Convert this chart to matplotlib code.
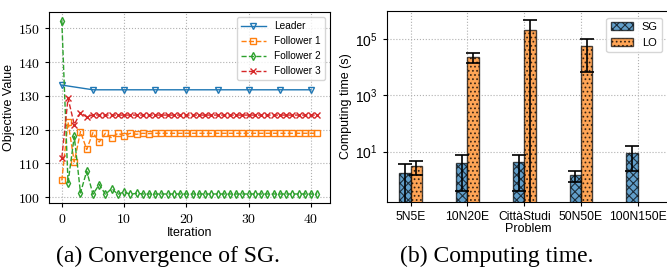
import numpy as np
import matplotlib
matplotlib.use('Agg')
import matplotlib.pyplot as plt
from matplotlib.ticker import FuncFormatter, FixedLocator, NullLocator

plt.rcParams['font.family'] = 'Liberation Sans'
plt.rcParams['mathtext.fontset'] = 'cm'
plt.rcParams['hatch.linewidth'] = 0.8

# (a) convergence of SG
leader_it = [0, 5, 10, 15, 20, 25, 30, 35, 40]
leader = [133.2, 131.8, 131.8, 131.8, 131.8, 131.8, 131.8, 131.8, 131.8]

follower_it = list(range(42))
follower1 = [104.9, 122.2, 110.4, 119.4, 114.1, 119.1, 116.3, 118.9, 117.5, 118.9,
             118.2, 118.9, 118.6, 118.9, 118.8, 118.9, 118.9, 118.9, 118.9, 118.9,
             118.9, 118.9, 118.9, 118.9, 118.9, 118.9, 118.9, 118.9, 118.9, 118.9,
             118.9, 118.9, 118.9, 118.9, 118.9, 118.9, 118.9, 118.9, 118.9, 118.9,
             118.9, 118.9]
follower2 = [152.3, 104.2, 118.0, 101.2, 107.7, 100.8, 103.7, 100.8, 102.5, 100.8,
             101.5, 100.8, 101.1, 100.9, 100.9, 100.9, 100.9, 100.9, 100.9, 100.9,
             100.9, 100.9, 100.9, 100.9, 100.9, 100.9, 100.9, 100.9, 100.9, 100.9,
             100.9, 100.9, 100.9, 100.9, 100.9, 100.9, 100.9, 100.9, 100.9, 100.9,
             100.9, 100.9]
follower3 = [111.6, 129.3, 121.5, 125.0, 123.7, 124.4, 124.3, 124.3, 124.3, 124.3,
             124.3, 124.3, 124.3, 124.3, 124.3, 124.3, 124.3, 124.3, 124.3, 124.3,
             124.3, 124.3, 124.3, 124.3, 124.3, 124.3, 124.3, 124.3, 124.3, 124.3,
             124.3, 124.3, 124.3, 124.3, 124.3, 124.3, 124.3, 124.3, 124.3, 124.3,
             124.3, 124.3]

# (b) computing time
problems = ['5N5E', '10N20E', 'CittàStudi', '50N50E', '100N150E']
sg_mean = [1.7, 3.9, 4.1, 1.45, 9.0]
sg_std = [1.8, 3.5, 3.7, 0.65, 7.0]
lo_mean = [3.1, 2.3e4, 2.1e5, 5.6e4, np.nan]
lo_std = [1.6, 0.85e4, 2.8e5, 4.9e4, np.nan]

fig = plt.figure(figsize=(6.67, 2.69), dpi=100)
ax1 = fig.add_axes([0.0735, 0.2454, 0.4213, 0.71])
ax2 = fig.add_axes([0.580, 0.249, 0.423, 0.710])

grid_kw = dict(color='#b0b0b0', linestyle=':', linewidth=0.8)

ax1.plot(leader_it, leader, '-', marker='v', color='tab:blue', ms=4, mfc='none',
         lw=1, label='Leader')
ax1.plot(follower_it, follower1, '--', marker='s', color='tab:orange', ms=4, mfc='none',
         lw=1, label='Follower 1')
ax1.plot(follower_it, follower2, '--', marker='d', color='tab:green', ms=4, mfc='none',
         lw=1, label='Follower 2')
ax1.plot(follower_it, follower3, '--', marker='x', color='tab:red', ms=4,
         lw=1, label='Follower 3')
ax1.set_xticks([0, 10, 20, 30, 40])
ax1.set_yticks([100, 110, 120, 130, 140, 150])
ax1.xaxis.set_major_formatter(FuncFormatter(lambda v, p: r'$%d$' % v))
ax1.yaxis.set_major_formatter(FuncFormatter(lambda v, p: r'$%d$' % v))
ax1.tick_params(labelsize=10, length=3)
ax1.set_xlabel('Iteration', fontsize=9, labelpad=1)
ax1.set_ylabel('Objective Value', fontsize=9, labelpad=2)
ax1.grid(True, **grid_kw)
ax1.legend(loc='upper right', fontsize=7.3, handlelength=2.5)

x = np.arange(len(problems))
w = 0.2
ax2.bar(x - w/2, sg_mean, w, yerr=sg_std, color='tab:blue', alpha=0.7, edgecolor='k',
        hatch='xxxx', capsize=5, error_kw=dict(lw=1.2, capthick=1.2), label='SG', zorder=2)
ax2.bar(x + w/2, lo_mean, w, yerr=lo_std, color='tab:orange', alpha=0.7, edgecolor='k',
        hatch='....', capsize=5, error_kw=dict(lw=1.2, capthick=1.2), label='LO', zorder=2)
ax2.set_yscale('log')
ax2.set_ylim(0.16, 1.0e6)
ax2.set_xlim(-0.42, 4.55)
ax2.yaxis.set_major_locator(FixedLocator([1e1, 1e3, 1e5]))
ax2.yaxis.set_minor_locator(NullLocator())
ax2.set_xticks(x)
ax2.set_xticklabels(problems)
ax2.tick_params(axis='x', labelsize=8.7, length=3)
ax2.tick_params(axis='y', labelsize=10, length=3)
ax2.set_xlabel('Problem', fontsize=9, labelpad=0)
ax2.set_ylabel('Computing time (s)', fontsize=9, labelpad=2)
ax2.grid(True, **grid_kw)
ax2.set_axisbelow(True)
ax2.legend(loc='upper right', fontsize=8, handlelength=2.0, borderaxespad=0.6)

fig.text(0.252, 0.025, '(a) Convergence of SG.', ha='center', va='baseline',
         family='Liberation Serif', fontsize=17)
fig.text(0.744, 0.025, '(b) Computing time.', ha='center', va='baseline',
         family='Liberation Serif', fontsize=17)

fig.savefig('out.png', dpi=100)
